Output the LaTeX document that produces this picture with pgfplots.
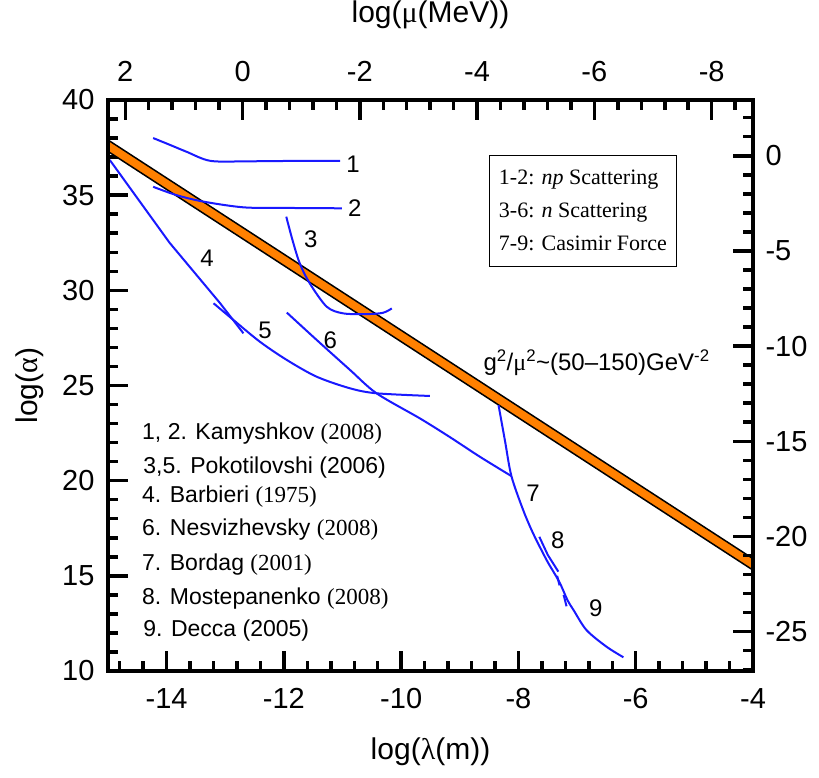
\documentclass[border=0pt]{standalone}
\usepackage{pgfplots}
\pgfplotsset{compat=1.18}
\usepackage{fontspec}
\setmainfont{Liberation Sans}
\newfontfamily\tnr{Liberation Serif}
\definecolor{band}{RGB}{255,128,0}
\definecolor{cblue}{RGB}{25,25,255}
\begin{document}
\begin{tikzpicture}
\path[use as bounding box] (-108pt,-107pt) rectangle (711pt,671pt);
\pgfplotsset{
  base/.style={width=645pt,height=571pt,scale only axis,at={(0pt,0pt)},anchor=south west,
    axis line style={line width=4pt},
    tick style={line width=3.5pt,black},
    major tick length=20pt, minor tick length=10pt,
    tick label style={font=\fontsize{29}{29}\selectfont},
    /pgf/number format/assume math mode=true,
    label style={font=\fontsize{30}{30}\selectfont},
  }
}
\begin{axis}[base, xmin=-15, xmax=-4, ymin=10, ymax=40,
  xtick={-14,-12,-10,-8,-6,-4}, ytick={10,15,20,25,30,35,40},
  minor xtick={-14.8,-14.4,-13.6,-13.2,-12.8,-12.4,-11.6,-11.2,-10.8,-10.4,-9.6,-9.2,-8.8,-8.4,-7.6,-7.2,-6.8,-6.4,-5.6,-5.2,-4.8,-4.4},
  minor ytick={11,12,13,14,16,17,18,19,21,22,23,24,26,27,28,29,31,32,33,34,36,37,38,39},
  xtick pos=bottom, ytick pos=left,
  xticklabel shift=14pt, yticklabel shift=10pt,
  xlabel={log({\tnr λ}(m))},
  xlabel style={at={(axis description cs:0.5,-0.142)}, anchor=center},
  ylabel={log({\tnr α})},
  ylabel style={at={(axis description cs:-0.121,0.5)}, anchor=center},
]
% band
\addplot[fill=band, draw=black, line width=1.5pt] coordinates {(-15,37.9) (-4,15.9) (-4,15.3) (-15,37.3) (-15,37.9)};
% curves
\addplot[cblue, line width=2pt, smooth] coordinates {(-14.23,38.0) (-13.95,37.65) (-13.66,37.28) (-13.25,36.8) (-12.6,36.78) (-11.8,36.8) (-11.04,36.8)};
\addplot[cblue, line width=2pt, smooth] coordinates {(-14.23,35.44) (-13.83,35.0) (-13.37,34.66) (-12.69,34.36) (-12.0,34.33) (-11.01,34.31)};
\addplot[cblue, line width=2pt, smooth] coordinates {(-11.96,33.87) (-11.85,32.6) (-11.73,31.42) (-11.56,30.37) (-11.27,29.14) (-10.99,28.79) (-10.59,28.75) (-10.31,28.82) (-10.16,29.05)};
\addplot[cblue, line width=2pt] coordinates {(-14.97,36.85) (-13.95,32.5) (-13.09,29.33) (-12.69,27.74)};
\addplot[cblue, line width=2pt, smooth] coordinates {(-13.2,29.32) (-12.86,28.44) (-12.41,27.3) (-11.95,26.34) (-11.44,25.46) (-10.87,24.85) (-10.42,24.59) (-9.51,24.45)};
\addplot[cblue, line width=2pt, smooth] coordinates {(-11.95,28.83) (-11.44,27.39) (-10.87,25.81) (-10.42,24.59) (-9.68,23.27) (-9.17,22.29) (-8.66,21.26) (-8.12,20.24)};
\addplot[cblue, line width=2pt, smooth] coordinates {(-8.34,23.97) (-8.23,22.1) (-8.12,20.24) (-7.92,18.46) (-7.75,17.23) (-7.52,15.83) (-7.40,15.2) (-7.29,14.6) (-7.16,13.7) (-7.06,13.2) (-6.84,12.15) (-6.50,11.28) (-6.21,10.72)};
\addplot[cblue, line width=2pt] coordinates {(-7.644,17.05) (-7.5,16.1) (-7.32,15.22)};
\addplot[cblue, line width=2pt] coordinates {(-7.34,15.0) (-7.30,14.5)};
\addplot[cblue, line width=2pt] coordinates {(-7.23,14.0) (-7.18,13.4)};
% curve numbers
\begin{scope}[every node/.style={font=\fontsize{24}{24}\selectfont}]
\node at (axis cs:-10.82,36.6) {1};
\node at (axis cs:-10.79,34.32) {2};
\node at (axis cs:-11.54,32.7) {3};
\node at (axis cs:-13.31,31.7) {4};
\node at (axis cs:-12.32,27.91) {5};
\node at (axis cs:-11.21,27.39) {6};
\node at (axis cs:-7.75,19.35) {7};
\node at (axis cs:-7.33,16.88) {8};
\node at (axis cs:-6.68,13.3) {9};
\node[anchor=base west] at (axis cs:-8.656,25.81) {g\textsuperscript{2}/{\tnr μ}\textsuperscript{2}\textasciitilde(50–150)GeV\textsuperscript{-2}};
\end{scope}
% reference list
\begin{scope}[every node/.style={font=\fontsize{23}{23}\selectfont, anchor=west, inner sep=0pt}]
\node at (axis cs:-14.42,22.45) {1, 2. Kamyshkov {\tnr (2008)}};
\node at (axis cs:-14.40,20.69) {3,5. Pokotilovshi (2006)};
\node at (axis cs:-14.42,19.14) {4. Barbieri {\tnr (1975)}};
\node at (axis cs:-14.42,17.43) {6. Nesvizhevsky {\tnr (2008)}};
\node at (axis cs:-14.42,15.57) {7. Bordag {\tnr (2001)}};
\node at (axis cs:-14.42,13.78) {8. Mostepanenko {\tnr (2008)}};
\node at (axis cs:-14.40,12.10) {9. Decca (2005)};
\end{scope}
% legend box
\node[draw=black, line width=1pt, fill=white, minimum width=187pt, minimum height=111pt,
  inner xsep=5pt, align=left, font=\tnr\fontsize{22}{33}\selectfont]
  at (axis cs:-6.90,34.19) {1-2: \textit{np} Scattering\\3-6: \textit{n} Scattering\\7-9: Casimir Force};
\end{axis}
% top axis
\begin{axis}[base, x dir=reverse, xmin=-8.705, xmax=2.295, ymin=10, ymax=40,
  hide y axis,
  xtick={-8,-6,-4,-2,0,2},
  minor xtick={-8.4,-7.6,-7.2,-6.8,-6.4,-5.6,-5.2,-4.8,-4.4,-3.6,-3.2,-2.8,-2.4,-1.6,-1.2,-0.8,-0.4,0.4,0.8,1.2,1.6},
  xtick pos=right, xticklabel pos=right, xticklabel shift=15pt,
  xlabel={log({\tnr μ}(MeV))},
  xlabel style={at={(axis description cs:0.5,1.149)}, anchor=center},
]
\end{axis}
% right axis
\begin{axis}[base, xmin=-15, xmax=-4, ymin=-27.07, ymax=2.93,
  hide x axis,
  ytick={-25,-20,-15,-10,-5,0},
  minor ytick={-27,-26,-24,-23,-22,-21,-19,-18,-17,-16,-14,-13,-12,-11,-9,-8,-7,-6,-4,-3,-2,-1,1,2},
  ytick pos=right, yticklabel pos=right, yticklabel shift=9pt,
]
\end{axis}
\end{tikzpicture}
\end{document}
